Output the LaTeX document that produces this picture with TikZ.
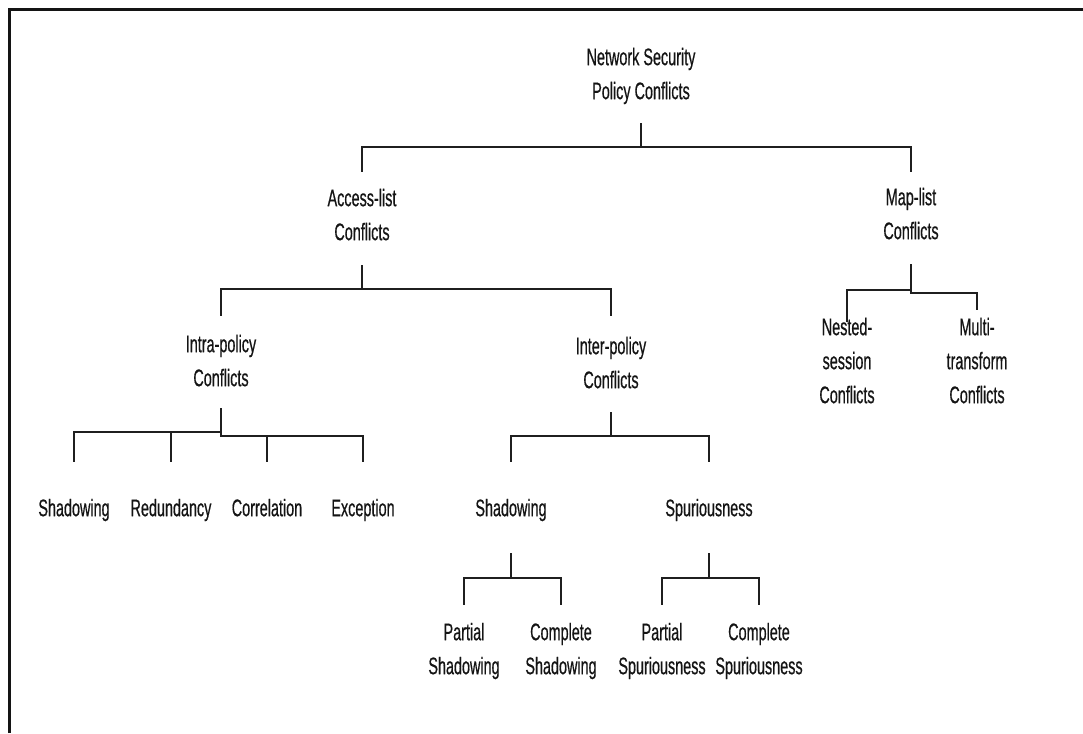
\documentclass[tikz,border=0pt]{standalone}
\usepackage{fontspec}
\newfontfamily\nf[FakeStretch=0.6,FakeBold=0.5]{Liberation Sans}
\usetikzlibrary{calc}
\begin{document}
\begin{tikzpicture}[x=1pt,y=-1pt,
  lab/.style={inner sep=0pt, align=center, text depth=5pt, font=\nf\fontsize{24}{34}\selectfont, text=black!92},
  conn/.style={line width=2.2pt, draw=black!88},
  frame/.style={line width=3pt, draw=black!92}]
\useasboundingbox (0,0) rectangle (1083,733);
\fill[white] (0,0) rectangle (1083,733);
\draw[frame] (9,733) -- (9,10) -- (1083,10);

% nodes
\node[lab] (root) at (641,76) {Network Security\\Policy Conflicts};
\node[lab] (acc) at (362,217) {Access-list\\Conflicts};
\node[lab] (map) at (911,216) {Map-list\\Conflicts};
\node[lab] (intra) at (221,363) {Intra-policy\\Conflicts};
\node[lab] (inter) at (611,365) {Inter-policy\\Conflicts};
\node[lab] (nest) at (847,363) {Nested-\\session\\Conflicts};
\node[lab] (multi) at (977,363) {Multi-\\transform\\Conflicts};
\node[lab] (sh1) at (74,510) {Shadowing};
\node[lab] (red) at (171,510) {Redundancy};
\node[lab] (cor) at (267,510) {Correlation};
\node[lab] (exc) at (363,510) {Exception};
\node[lab] (sh2) at (511,510) {Shadowing};
\node[lab] (spu) at (709,510) {Spuriousness};
\node[lab] (psh) at (464,651) {Partial\\Shadowing};
\node[lab] (csh) at (561,651) {Complete\\Shadowing};
\node[lab] (psp) at (662,651) {Partial\\Spuriousness};
\node[lab] (csp) at (759,651) {Complete\\Spuriousness};

% connectors
\draw[conn] ($(root.center)+(0,47)$) -- ++(0,24) -| ($(acc.center)+(0,-45)$);
\draw[conn] ($(root.center)+(0,47)$) -- ++(0,24) -| ($(map.center)+(0,-44)$);

\draw[conn] ($(acc.center)+(0,48)$) -- ++(0,24) -| ($(intra.center)+(0,-47)$);
\draw[conn] ($(acc.center)+(0,48)$) -- ++(0,24) -| ($(inter.center)+(0,-49)$);

\draw[conn] ($(map.center)+(0,48)$) -- ++(0,26) -| ($(nest.center)+(0,-41)$);
\draw[conn] ($(map.center)+(0,48)$) -- ++(0,29) -| ($(multi.center)+(0,-53)$);

\draw[conn] ($(intra.center)+(0,45)$) -- ++(0,24) -| ($(sh1.center)+(0,-48)$);
\draw[conn] ($(intra.center)+(0,45)$) -- ++(0,24) -| ($(red.center)+(0,-48)$);
\draw[conn] ($(intra.center)+(0,45)$) -- ++(0,28) -| ($(cor.center)+(0,-48)$);
\draw[conn] ($(intra.center)+(0,45)$) -- ++(0,28) -| ($(exc.center)+(0,-48)$);

\draw[conn] ($(inter.center)+(0,47)$) -- ++(0,24) -| ($(sh2.center)+(0,-48)$);
\draw[conn] ($(inter.center)+(0,47)$) -- ++(0,24) -| ($(spu.center)+(0,-48)$);

\draw[conn] ($(sh2.center)+(0,43)$) -- ++(0,25) -| ($(psh.center)+(0,-46)$);
\draw[conn] ($(sh2.center)+(0,43)$) -- ++(0,25) -| ($(csh.center)+(0,-46)$);

\draw[conn] ($(spu.center)+(0,43)$) -- ++(0,25) -| ($(psp.center)+(0,-46)$);
\draw[conn] ($(spu.center)+(0,43)$) -- ++(0,25) -| ($(csp.center)+(0,-46)$);
\end{tikzpicture}
\end{document}
